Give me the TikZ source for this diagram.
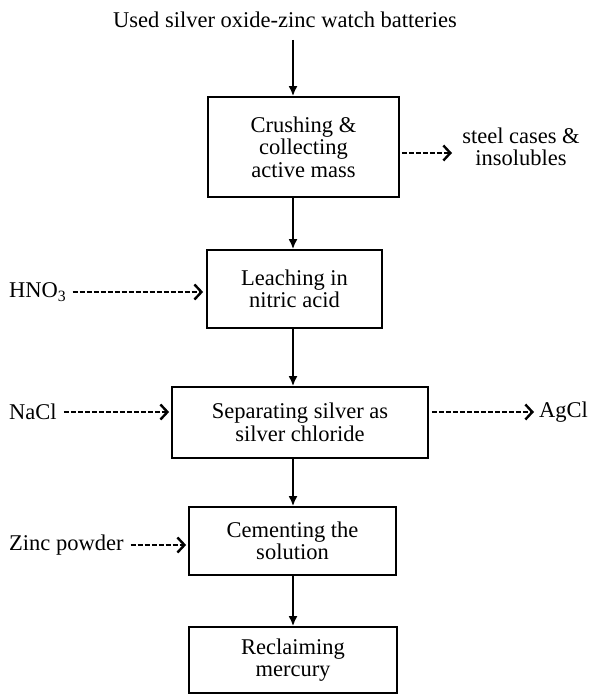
\documentclass[tikz,border=0pt]{standalone}
\usepackage{fontspec}
\setmainfont{Liberation Serif}
\usetikzlibrary{arrows.meta}
\begin{document}
\begin{tikzpicture}[x=1pt,y=1pt,
  procbox/.style={draw,line width=1.8pt,align=center,inner sep=0pt,font=\fontsize{22.5}{22.5}\selectfont},
  lbl/.style={inner sep=1pt,font=\fontsize{22.5}{22.5}\selectfont,align=center},
  mainarrow/.style={line width=1.8pt,-{Latex[length=10pt,width=9pt]}},
  sidearrow/.style={line width=2pt,dash pattern=on 5pt off 2pt,-{Straight Barb[length=7pt,width=15pt,line width=2.4pt]}}]
\useasboundingbox (0,0) rectangle (598,-695);
\node[lbl] (src) at (285,-20) {Used silver oxide-zinc watch batteries};
\node[procbox,minimum width=191pt,minimum height=100pt] (b1) at (303.5,-147) {Crushing \&\\collecting\\active mass};
\node[procbox,minimum width=175pt,minimum height=78pt] (b2) at (294.5,-289) {Leaching in\\nitric acid};
\node[procbox,minimum width=256pt,minimum height=71pt] (b3) at (300,-422.5) {Separating silver as\\silver chloride};
\node[procbox,minimum width=207pt,minimum height=68pt] (b4) at (292.5,-541) {Cementing the\\solution};
\node[procbox,minimum width=208pt,minimum height=66pt] (b5) at (293,-660) {Reclaiming\\mercury};
\coordinate (sp) at (293,0);
\draw[mainarrow] (sp |- 0,-40) -- (sp |- b1.north);
\draw[mainarrow] (sp |- b1.south) -- (sp |- b2.north);
\draw[mainarrow] (sp |- b2.south) -- (sp |- b3.north);
\draw[mainarrow] (sp |- b3.south) -- (sp |- b4.north);
\draw[mainarrow] (sp |- b4.south) -- (sp |- b5.north);
% side inputs/outputs
\node[lbl,anchor=west] (hno) at (8,-292) {HNO\textsubscript{3}};
\draw[sidearrow] (hno.east) ++(5,0) coordinate (h1) -- ([xshift=-3pt]h1 -| b2.west);
\node[lbl,anchor=west] (nacl) at (8,-412) {NaCl};
\draw[sidearrow] (nacl.east) ++(6,0) coordinate (n1) -- ([xshift=-2pt]n1 -| b3.west);
\node[lbl,anchor=west] (agcl) at (538,-412) {AgCl};
\coordinate (a1) at (b3.east |- agcl);
\draw[sidearrow] ([xshift=3pt]a1) -- ([xshift=-4pt]agcl.west);
\node[lbl,anchor=west] (zinc) at (8,-545) {Zinc powder};
\draw[sidearrow] (zinc.east) ++(6,0) coordinate (z1) -- ([xshift=-2pt]z1 -| b4.west);
\node[lbl] (steel) at (521,-147) {steel cases \&\\insolubles};
\coordinate (s1) at (b1.east |- 0,-153);
\draw[sidearrow] ([xshift=2pt]s1) -- (452,-153);
\end{tikzpicture}
\end{document}
